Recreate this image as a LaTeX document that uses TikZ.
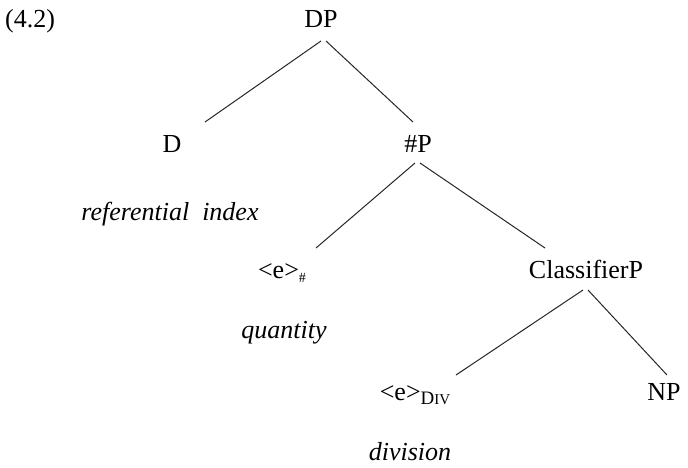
\documentclass[tikz,border=0pt]{standalone}
\usepackage{fontspec}
\setmainfont{Liberation Serif}
\usetikzlibrary{calc}
\tikzset{
  lbl/.style={inner sep=0pt, anchor=base, font=\fontsize{26}{30}\selectfont},
  gloss/.style={inner sep=0pt, anchor=base, font=\fontsize{26}{30}\selectfont\itshape},
  branch/.style={line width=1pt, black!85},
}
\newcommand{\subhash}{\raisebox{-4pt}{\fontsize{14}{15}\selectfont\#}}
\newcommand{\subdiv}{\raisebox{-4pt}{\fontsize{19}{20}\selectfont D\fontsize{15}{16}\selectfont IV}}
\begin{document}
\begin{tikzpicture}[x=1pt,y=1pt]
\useasboundingbox (0,0) rectangle (688,-467);
\node[lbl, anchor=base west] (ex) at (5,-27) {(4.2)};
\node[lbl] (DP) at (321,-27) {DP};
\node[lbl] (D) at (172,-152) {D};
\node[lbl] (NumP) at (418,-152) {\#P};
\node[gloss] (ref) at (170,-220) {referential\ \ index};
\node[lbl] (e1) at (282,-278) {<e>\subhash};
\node[lbl] (ClP) at (586,-278) {ClassifierP};
\node[gloss] (qty) at (284,-338) {quantity};
\node[lbl] (e2) at (415,-400) {<e>\subdiv};
\node[lbl] (NP) at (664,-400) {NP};
\node[gloss] (div) at (410,-460) {division};
% branch end points
\coordinate (DPl) at (321,-41);
\coordinate (DPr) at (326,-41);
\coordinate (Dt) at (205,-122);
\coordinate (NumPt) at (413,-122);
\coordinate (NumPl) at (415,-163);
\coordinate (NumPr) at (420,-163);
\coordinate (e1t) at (316,-248);
\coordinate (ClPt) at (545,-248);
\coordinate (ClPl) at (583,-290);
\coordinate (ClPr) at (588,-290);
\coordinate (e2t) at (456,-375);
\coordinate (NPt) at (667,-375);
\draw[branch] (DPl) -- (Dt);
\draw[branch] (DPr) -- (NumPt);
\draw[branch] (NumPl) -- (e1t);
\draw[branch] (NumPr) -- (ClPt);
\draw[branch] (ClPl) -- (e2t);
\draw[branch] (ClPr) -- (NPt);
\end{tikzpicture}
\end{document}
